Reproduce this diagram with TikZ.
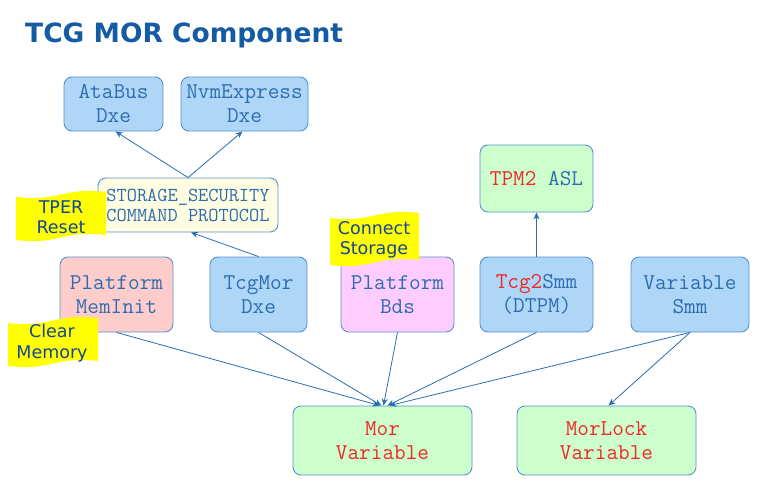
\documentclass[tikz,border=0pt]{standalone}
\usepackage{fontspec}
\setmainfont{DejaVu Sans}
\usetikzlibrary{arrows.meta,calc}
\definecolor{bluefill}{RGB}{174,215,247}
\definecolor{bordc}{RGB}{86,145,205}
\definecolor{textb}{RGB}{46,108,175}
\definecolor{creamfill}{RGB}{255,253,225}
\definecolor{pinkfill}{RGB}{255,204,204}
\definecolor{magfill}{RGB}{255,204,255}
\definecolor{greenfill}{RGB}{204,255,204}
\definecolor{redt}{RGB}{240,40,40}
\definecolor{linec}{RGB}{40,110,180}
\definecolor{notet}{RGB}{20,70,150}
\definecolor{titlec}{RGB}{20,90,165}
\definecolor{yel}{RGB}{255,255,0}
\newcommand{\wavenote}[4]{%
  \fill[yel] (#1,#2+5) .. controls ({#1+0.5*(#3-#1)},#2+10) and ({#1+0.5*(#3-#1)},#2-5) .. (#3,#2)
    -- (#3,#4-5) .. controls ({#1+0.5*(#3-#1)},#4-10) and ({#1+0.5*(#3-#1)},#4+5) .. (#1,#4) -- cycle;}
\tikzset{
  box/.style={draw=bordc, line width=0.9pt, rounded corners=8pt, align=center,
    text=textb, font=\ttfamily\fontsize{22.6}{24}\selectfont, inner sep=0pt},
  bluebox/.style={box, fill=bluefill},
  conn/.style={draw=linec, line width=0.8pt, -{Stealth[length=7pt,width=6pt]}},
  notetext/.style={align=center, text=notet, font=\fontsize{17.5}{20.5}\selectfont, inner sep=0pt}
}
\begin{document}
\begin{tikzpicture}[x=1pt,y=-1pt]
\useasboundingbox (0,0) rectangle (781,484);
\node[anchor=base west, text=titlec, font=\bfseries\fontsize{26.5}{32}\selectfont, inner sep=0pt] (title) at (25,43) {TCG MOR Component};

\node[bluebox, minimum width=99pt, minimum height=54pt] (ata) at (113.5,104) {AtaBus\\Dxe};
\node[bluebox, minimum width=127pt, minimum height=54pt] (nvm) at (244.5,104) {NvmExpress\\Dxe};
\node[box, fill=creamfill, minimum width=180pt, minimum height=54pt, font=\ttfamily\fontsize{19.8}{20}\selectfont] (stor) at (188,205) {STORAGE\_SECURITY\\COMMAND PROTOCOL};

\node[box, fill=greenfill, minimum width=113pt, minimum height=67pt] (tpm) at (536.5,178.5) {{\color{redt}TPM2} ASL};

\node[box, fill=pinkfill, minimum width=113pt, minimum height=75pt] (memi) at (116.5,294.5) {Platform\\MemInit};
\node[bluebox, minimum width=97pt, minimum height=75pt] (tcgmor) at (258.5,294.5) {TcgMor\\Dxe};
\node[box, fill=magfill, minimum width=113pt, minimum height=75pt] (bds) at (397.5,294.5) {Platform\\Bds};
\node[bluebox, minimum width=113pt, minimum height=75pt] (tcg2) at (536.5,294.5) {{\color{redt}Tcg2}Smm\\(DTPM)};
\node[bluebox, minimum width=118pt, minimum height=75pt] (vsmm) at (690,294.5) {Variable\\Smm};

\node[box, fill=greenfill, minimum width=179pt, minimum height=69pt, text=redt] (mor) at (382.5,440.5) {Mor\\Variable};
\node[box, fill=greenfill, minimum width=179pt, minimum height=69pt, text=redt] (morlock) at (606.5,440.5) {MorLock\\Variable};

\draw[conn] (stor.north) -- ([xshift=2pt]ata.south);
\draw[conn] (stor.north) -- ([xshift=-2pt]nvm.south);
\draw[conn] (tcgmor.north) -- ([xshift=3pt]stor.south);
\draw[conn] (tcg2.north) -- (tpm.south);
\draw[conn] (memi.south) -- ([xshift=-3pt]mor.north);
\draw[conn] (tcgmor.south) -- ([xshift=-1pt]mor.north);
\draw[conn] (bds.south) -- ([xshift=1pt]mor.north);
\draw[conn] (tcg2.south) -- ([xshift=5pt]mor.north);
\draw[conn] (vsmm.south) -- ([xshift=7pt]mor.north);
\draw[conn] (vsmm.south) -- ([xshift=2pt]morlock.north);

\wavenote{16}{192}{106}{240}
\wavenote{330}{213}{419}{265}
\wavenote{8}{318}{98}{366}
\node[notetext] (tper) at (61,217) {TPER\\Reset};
\node[notetext] (cs) at (374,240) {Connect\\Storage};
\node[notetext] (cm) at (52,343) {Clear\\Memory};
\end{tikzpicture}
\end{document}
